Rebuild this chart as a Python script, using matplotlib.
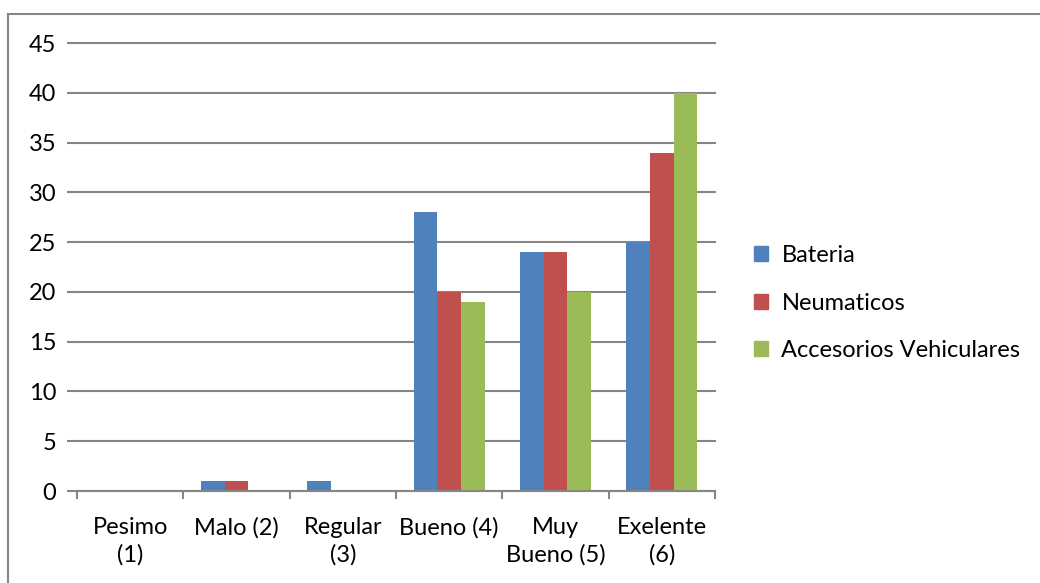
import numpy as np
import matplotlib
matplotlib.use("Agg")
import matplotlib.pyplot as plt
from matplotlib.patches import Rectangle, Patch

# Datos de la encuesta
categorias = ["Pesimo\n(1)", "Malo (2)", "Regular\n(3)", "Bueno (4)", "Muy\nBueno (5)", "Exelente\n(6)"]
bateria = [0, 1, 1, 28, 24, 25]
neumaticos = [0, 1, 0, 20, 24, 34]
accesorios = [0, 0, 0, 19, 20, 40]
series = ["Bateria", "Neumaticos", "Accesorios Vehiculares"]
colores = ["#4F81BD", "#C0504D", "#9BBB59"]
yticks = [0, 5, 10, 15, 20, 25, 30, 35, 40, 45]

plt.rcParams["font.family"] = ["Lato", "DejaVu Sans"]
plt.rcParams["font.size"] = 17

W, H = 1040, 583
fig = plt.figure(figsize=(W / 100, H / 100), dpi=100)
ax = fig.add_axes([77 / W, 1 - 491 / H, (715 - 77) / W, (491 - 43) / H])

# marco exterior del grafico
fig.patches.append(Rectangle((8 / W, -0.1), 1.2, 1 - 14 / H + 0.1, transform=fig.transFigure,
                             fill=False, edgecolor="#868686", linewidth=1.5))

x = np.arange(len(categorias))
ancho = 1 / 4.5
for i, (vals, nombre, color) in enumerate(zip([bateria, neumaticos, accesorios], series, colores)):
    ax.bar(x + (i - 1) * ancho, vals, width=ancho, color=color, label=nombre, zorder=3)

ax.set_xlim(-0.5, len(categorias) - 0.5)
ax.set_ylim(0, 45)
ax.set_yticks(yticks)
ax.yaxis.grid(True, color="#868686", linewidth=1.5, zorder=0, clip_on=False)
for s in ["top", "right", "left"]:
    ax.spines[s].set_visible(False)
ax.spines["bottom"].set_color("#868686")
ax.spines["bottom"].set_linewidth(1.5)
ax.spines["bottom"].set_zorder(4)

ax.tick_params(axis="y", length=7, width=1.5, color="#868686", pad=8)
ax.set_xticks(np.arange(-0.5, len(categorias)), minor=False)
ax.set_xticklabels([])
ax.set_xticks(x, minor=True)
ax.set_xticklabels(categorias, minor=True, va="top", linespacing=1.35)
ax.tick_params(axis="x", which="major", length=6, width=1.5, color="#868686", direction="out")
ax.tick_params(axis="x", which="minor", length=0, pad=19)

handles = [Patch(color=c) for c in colores]
fig.legend(handles, series, loc="center left", bbox_to_anchor=(733 / W, 1 - 303 / H),
           frameon=False, fontsize=17, handlelength=0.6, handleheight=0.6,
           handletextpad=0.55, labelspacing=1.13)

fig.savefig("out.png", dpi=100)
